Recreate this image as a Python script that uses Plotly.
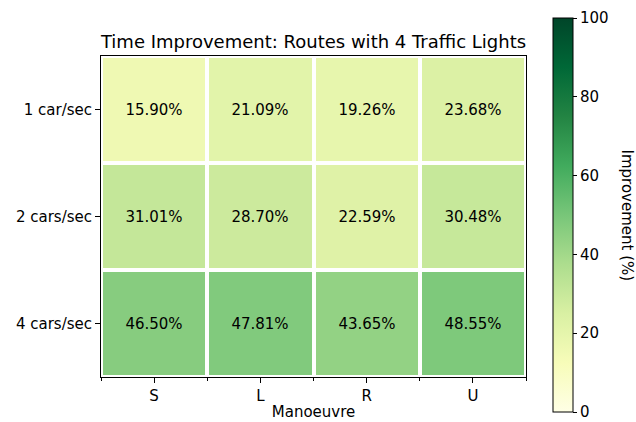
import plotly.graph_objects as go

# Heatmap data: time improvement (%) per traffic rate and manoeuvre
manoeuvres = ["S", "L", "R", "U"]
rates = ["1 car/sec", "2 cars/sec", "4 cars/sec"]
improvement = [
    [15.90, 21.09, 19.26, 23.68],
    [31.01, 28.70, 22.59, 30.48],
    [46.50, 47.81, 43.65, 48.55],
]
cbar_ticks = [0, 20, 40, 60, 80, 100]

# ColorBrewer YlGn
ylgn = ["#ffffe5", "#f7fcb9", "#d9f0a3", "#addd8e", "#78c679",
        "#41ab5d", "#238443", "#006837", "#004529"]
colorscale = [[i / (len(ylgn) - 1), c] for i, c in enumerate(ylgn)]

FONT = "DejaVu Sans"
FS = 15
labels = [[f"{v:.2f}%" for v in row] for row in improvement]

fig = go.Figure(
    go.Heatmap(
        z=improvement,
        x=list(range(len(manoeuvres))),
        y=list(range(len(rates))),
        text=labels,
        texttemplate="%{text}",
        textfont=dict(family=FONT, size=FS, color="black"),
        colorscale=colorscale,
        zmin=cbar_ticks[0],
        zmax=cbar_ticks[-1],
        xgap=4,
        ygap=4,
        hoverinfo="skip",
        colorbar=dict(
            x=(553 - 101) / 425,
            xanchor="left",
            xpad=0,
            ypad=0,
            y=(377 - 215) / 321,
            yanchor="middle",
            thickness=20,
            thicknessmode="pixels",
            len=394,
            lenmode="pixels",
            outlinecolor="black",
            outlinewidth=1,
            tickmode="linear",
            tick0=cbar_ticks[0],
            dtick=cbar_ticks[1] - cbar_ticks[0],
            ticks="outside",
            ticklen=4,
            tickcolor="black",
            tickfont=dict(family=FONT, size=FS, color="black"),
        ),
    )
)

fig.update_xaxes(
    range=[-0.5, len(manoeuvres) - 0.5],
    tickvals=list(range(len(manoeuvres))),
    ticktext=manoeuvres,
    ticks="outside",
    ticklen=5,
    tickcolor="black",
    tickfont=dict(family=FONT, size=FS, color="black"),
    minor=dict(tick0=-0.5, dtick=1, ticks="outside", ticklen=3, tickcolor="black", showgrid=False),
    showline=True,
    linecolor="black",
    linewidth=1,
    mirror=True,
    showgrid=False,
    zeroline=False,
    automargin=False,
    title=dict(text="Manoeuvre", font=dict(family=FONT, size=FS, color="black"), standoff=2),
)
fig.update_yaxes(
    range=[len(rates) - 0.5, -0.5],
    tickvals=list(range(len(rates))),
    ticktext=rates,
    ticks="outside",
    ticklen=5,
    tickcolor="black",
    tickfont=dict(family=FONT, size=FS, color="black"),
    showline=True,
    linecolor="black",
    linewidth=1,
    mirror=True,
    showgrid=False,
    zeroline=False,
    automargin=False,
)

fig.add_annotation(
    text="Improvement (%)",
    textangle=90,
    xref="paper",
    yref="paper",
    x=(627 - 101) / 425,
    y=(377 - 215.5) / 321,
    xanchor="center",
    yanchor="middle",
    showarrow=False,
    font=dict(family=FONT, size=FS, color="black"),
)

fig.update_layout(
    width=636,
    height=422,
    margin=dict(l=101, r=110, t=56, b=45),
    paper_bgcolor="white",
    plot_bgcolor="white",
    font=dict(family=FONT, color="black"),
    title=dict(
        text="Time Improvement: Routes with 4 Traffic Lights",
        font=dict(family=FONT, size=18, color="black"),
        x=0.5,
        xref="paper",
        xanchor="center",
        y=1,
        yref="paper",
        yanchor="bottom",
        pad=dict(b=8),
    ),
)

fig.write_html("out.html")
